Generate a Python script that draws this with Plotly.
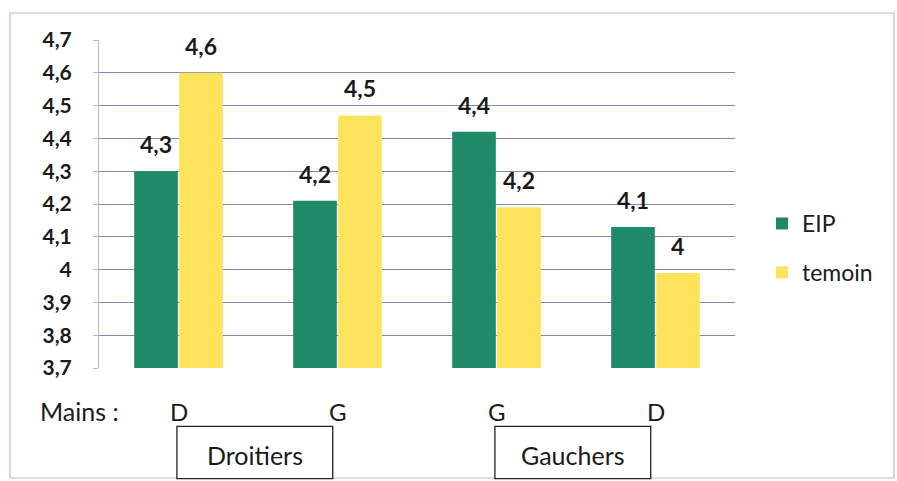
import plotly.graph_objects as go

# Hands (Mains) per group and the two series
hands = ["D", "G", "G", "D"]
groups = ["Droitiers", "Gauchers"]
eip = [4.30, 4.21, 4.42, 4.13]
temoin = [4.60, 4.47, 4.19, 3.99]
y_ticks = [3.7, 3.8, 3.9, 4.0, 4.1, 4.2, 4.3, 4.4, 4.5, 4.6, 4.7]
y_tick_labels = ["3,7", "3,8", "3,9", "4", "4,1", "4,2", "4,3", "4,4", "4,5", "4,6", "4,7"]

GREEN = "#1e8a68"
YELLOW = "#fde35c"
GRID = "#8286bb"
FONT = "Lato, Open Sans, sans-serif"
INK = "#1a1a1a"

W, H = 897, 481
L, R, T, B = 99, 162, 40, 113
plot_w = W - L - R
plot_h = H - T - B


def fmt(v):
    s = f"{round(v, 1):.1f}"
    if s.endswith(".0"):
        s = s[:-2]
    return s.replace(".", ",")


x = list(range(len(hands)))

fig = go.Figure()
fig.add_trace(go.Bar(x=x, y=eip, name="EIP", marker=dict(color=GREEN, line_width=0)))
fig.add_trace(go.Bar(x=x, y=temoin, name="temoin", marker=dict(color=YELLOW, line_width=0),
                     legendgroup="t"))

bargap = 0.434
unit = plot_w / len(hands)
half = (1 - bargap) / 2 * unit / 2

annotations = []
for i in x:
    for vals, sign in ((eip, -1), (temoin, 1)):
        annotations.append(dict(
            x=i, y=vals[i], xref="x", yref="y", text=fmt(vals[i]),
            showarrow=False, xanchor="center", yanchor="bottom",
            xshift=sign * half, yshift=11,
            font=dict(family=FONT, size=23, color=INK, weight="bold"),
        ))

# hand labels under each group
hand_y = (368 - 411) / plot_h
for i, h in enumerate(hands):
    annotations.append(dict(
        x=i, y=hand_y, xref="x", yref="paper", text=h, showarrow=False,
        xanchor="center", yanchor="middle",
        font=dict(family=FONT, size=24, color=INK),
    ))
annotations.append(dict(
    x=(79 - L) / plot_w, y=hand_y, xref="paper", yref="paper", text="Mains :",
    showarrow=False, xanchor="center", yanchor="middle",
    font=dict(family=FONT, size=25, color=INK),
))

shapes = []
# group boxes (Droitiers over the first pair, Gauchers over the second)
for k, name in enumerate(groups):
    x0, x1 = 2 * k - 0.01, 2 * k + 0.97
    shapes.append(dict(type="rect", xref="x", yref="paper", x0=x0, x1=x1,
                       y0=-0.337, y1=-0.178, line=dict(color="#222222", width=1.3),
                       fillcolor="white", layer="above"))
    annotations.append(dict(
        x=(x0 + x1) / 2, y=(368 - 455) / plot_h, xref="x", yref="paper", text=name,
        showarrow=False, xanchor="center", yanchor="middle",
        font=dict(family=FONT, size=25, color=INK),
    ))

# outer chart frame
shapes.append(dict(type="rect", xref="paper", yref="paper",
                   x0=(10 - L) / plot_w, x1=(894 - L) / plot_w,
                   y0=(H - B - 478) / plot_h, y1=(H - B - 13) / plot_h,
                   line=dict(color="#b8bcd4", width=1.2), layer="below"))

fig.update_layout(
    width=W, height=H,
    margin=dict(l=L, r=R, t=T, b=B),
    paper_bgcolor="white", plot_bgcolor="white",
    barmode="group", bargap=bargap, bargroupgap=0.03,
    font=dict(family=FONT, color=INK),
    showlegend=True,
    legend=dict(x=(762 - L) / plot_w, y=(368 - 248) / plot_h, xanchor="left", yanchor="middle",
                font=dict(family=FONT, size=23, color=INK),
                tracegroupgap=16, bgcolor="rgba(0,0,0,0)"),
    annotations=annotations,
    shapes=shapes,
)
fig.update_xaxes(range=[-0.5, len(hands) - 0.5], showticklabels=False, showgrid=False,
                 zeroline=False, showline=False, ticks="")
fig.update_yaxes(range=[3.7, 4.7], tickvals=y_ticks, ticktext=y_tick_labels,
                 showgrid=True, gridcolor=GRID, gridwidth=1, zeroline=False,
                 showline=True, linecolor="#b4b8d4", linewidth=1,
                 ticks="outside", ticklen=5, tickcolor="#b4b8d4",
                 ticklabelstandoff=17,
                 tickfont=dict(family=FONT, size=21, color=INK, weight="bold"))

fig.write_html("out.html")
